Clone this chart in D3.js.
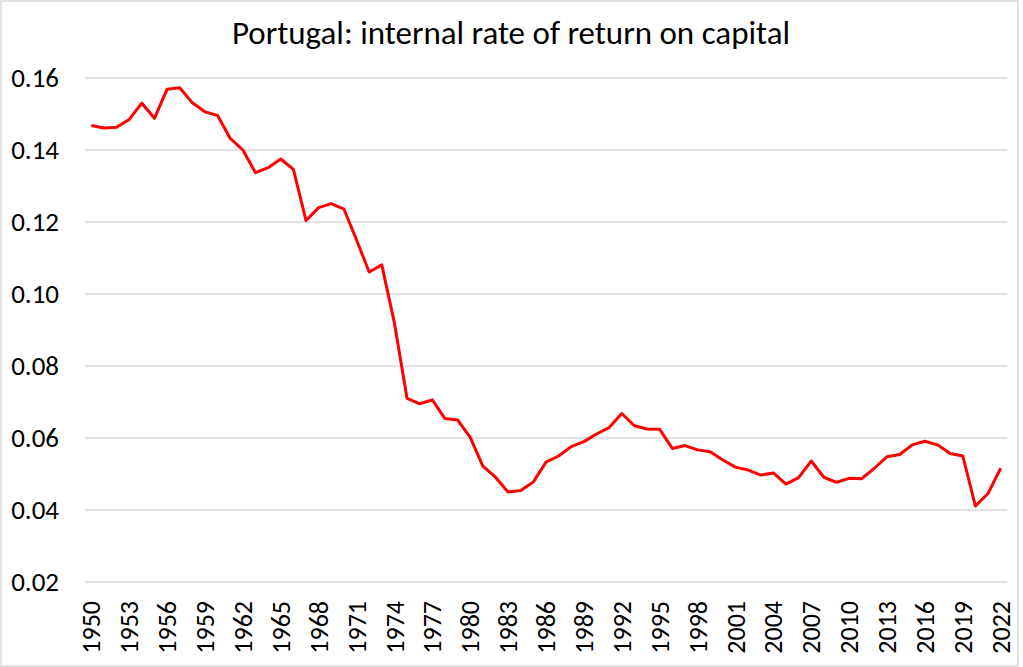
<!DOCTYPE html>
<html lang="en">
<head>
    <meta charset="UTF-8"/>
    <title>Portugal: internal rate of return on capital</title>
    <script src="https://d3js.org/d3.v7.min.js"></script>
    <style>
        body { margin: 0; background: #fff; }
        text { font-family: Carlito, Calibri, Lato, sans-serif; fill: #000; }
    </style>
</head>
<body>
    <script>
        var w = 1023;
        var h = 667;

        // years 1950..2022
        var years = d3.range(1950, 2023);
        var rates = [
            0.1468, 0.1461, 0.1463, 0.1485, 0.1530, 0.1488, 0.1569, 0.1573, 0.1531, 0.1506,
            0.1496, 0.1432, 0.1400, 0.1337, 0.1351, 0.1375, 0.1346, 0.1204, 0.1240, 0.1251,
            0.1236, 0.1150, 0.1061, 0.1081, 0.0919, 0.0710, 0.0695, 0.0706, 0.0654, 0.0650,
            0.0602, 0.0522, 0.0491, 0.0450, 0.0454, 0.0478, 0.0533, 0.0550, 0.0576, 0.0590,
            0.0611, 0.0629, 0.0668, 0.0634, 0.0625, 0.0624, 0.0571, 0.0579, 0.0567, 0.0562,
            0.0539, 0.0519, 0.0511, 0.0497, 0.0503, 0.0472, 0.0490, 0.0536, 0.0491, 0.0477,
            0.0488, 0.0487, 0.0516, 0.0548, 0.0554, 0.0581, 0.0591, 0.0581, 0.0557, 0.0550,
            0.0411, 0.0446, 0.0516
        ];
        var yTicks = [0.02, 0.04, 0.06, 0.08, 0.10, 0.12, 0.14, 0.16];
        var xTickYears = years.filter(function (y) { return (y - 1950) % 3 === 0; });

        var plot = { left: 85, right: 1007, top: 78, bottom: 582 };

        var svg = d3.select("body")
                    .append("svg")
                    .attr("width", w)
                    .attr("height", h);

        // chart border
        svg.append("rect")
            .attr("x", 1).attr("y", 1)
            .attr("width", 1017).attr("height", 665)
            .attr("fill", "none")
            .attr("stroke", "#d9d9d9")
            .attr("stroke-width", 1.5);

        const xScale = d3.scaleBand()
            .domain(years)
            .range([plot.left, plot.right]);

        const yScale = d3.scaleLinear()
            .domain([0.02, 0.16])
            .range([plot.bottom, plot.top]);

        // gridlines
        svg.append("g")
            .selectAll("line")
            .data(yTicks)
            .enter()
            .append("line")
            .attr("x1", plot.left)
            .attr("x2", plot.right)
            .attr("y1", d => yScale(d))
            .attr("y2", d => yScale(d))
            .attr("stroke", "#d9d9d9")
            .attr("stroke-width", 1.5);

        // y labels
        svg.append("g")
            .selectAll("text")
            .data(yTicks)
            .enter()
            .append("text")
            .attr("x", 59)
            .attr("y", d => yScale(d))
            .attr("dy", "0.35em")
            .attr("text-anchor", "end")
            .attr("font-size", "27px")
            .text(d => d3.format(".2f")(d));

        // x labels, rotated
        svg.append("g")
            .selectAll("text")
            .data(xTickYears)
            .enter()
            .append("text")
            .attr("transform", d => "translate(" + (xScale(d) + xScale.bandwidth() / 2) + ",601) rotate(-90)")
            .attr("dy", "0.35em")
            .attr("text-anchor", "end")
            .attr("font-size", "26px")
            .text(d => d);

        // line
        const line = d3.line()
            .x((d, i) => xScale(years[i]) + xScale.bandwidth() / 2)
            .y(d => yScale(d));

        svg.append("path")
            .datum(rates)
            .attr("d", line)
            .attr("fill", "none")
            .attr("stroke", "#ff0000")
            .attr("stroke-width", 3)
            .attr("stroke-linejoin", "round");

        // title
        svg.append("text")
            .attr("x", 511)
            .attr("y", 44)
            .attr("text-anchor", "middle")
            .attr("font-size", "33px")
            .text("Portugal: internal rate of return on capital");
    </script>
</body>
</html>
